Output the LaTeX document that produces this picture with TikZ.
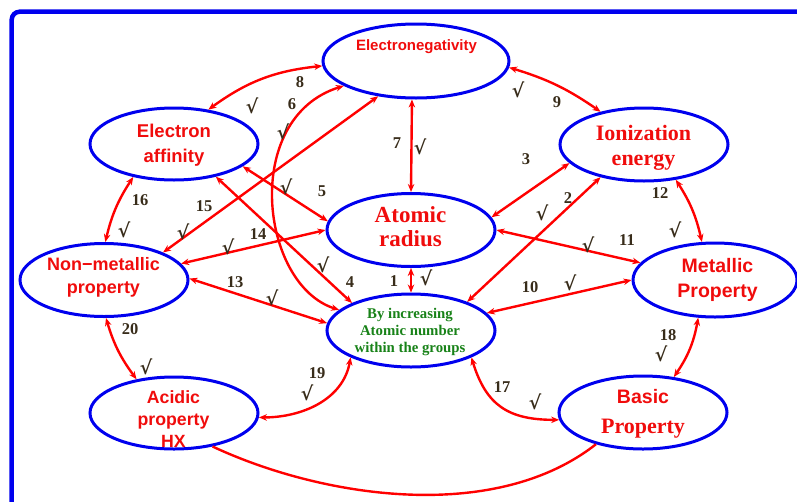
\documentclass[tikz,border=0pt]{standalone}
\usepackage{fontspec}
\setmainfont{Liberation Serif}
\setsansfont{Liberation Sans}
\newfontfamily\tickfont{DejaVu Serif}
\usetikzlibrary{arrows.meta,shapes.geometric}

\definecolor{frameblue}{RGB}{0,0,238}
\definecolor{linkred}{RGB}{255,0,0}
\definecolor{txtred}{RGB}{240,12,12}
\definecolor{numbrown}{RGB}{56,44,26}
\definecolor{grpgreen}{RGB}{24,130,24}

\begin{document}
\begin{tikzpicture}[x=1pt,y=-1pt,
  prop/.style={draw=frameblue, line width=3pt, ellipse, inner sep=0pt,
    minimum width=168pt, minimum height=73pt},
  link/.style={draw=linkred, line width=2.4pt,
    {Stealth[length=8pt,width=6.5pt]}-{Stealth[length=8pt,width=6.5pt]}},
  plain/.style={draw=linkred, line width=2.4pt},
  num/.style={text=numbrown, font=\fontsize{16.5}{16}\selectfont\bfseries, inner sep=0pt},
  tick/.style={text=numbrown, font=\fontsize{19}{19}\selectfont\tickfont\bfseries, inner sep=0pt},
  sanslbl/.style={text=txtred, align=center, inner sep=0pt, anchor=base},
]
\useasboundingbox (0,0) rectangle (797,501);
\clip (0,0) rectangle (797,501);

% outer frame, running off the right and bottom edges
\draw[frameblue, line width=4.5pt, rounded corners=8pt] (11.7,11.7) rectangle (840,560);

% property ellipses
\node[prop, minimum width=186pt, minimum height=74pt] (EN) at (416,61) {};
\node[prop, minimum height=72pt] (EA) at (174,144) {};
\node[prop] (IE) at (644,144.5) {};
\node[prop] (AR) at (411,230) {};
\node[prop] (BI) at (411,330.5) {};
\node[prop, minimum width=164pt, minimum height=74pt] (MP) at (715,280) {};
\node[prop] (NM) at (104,280) {};
\node[prop, minimum height=72pt] (AC) at (174,413) {};
\node[prop] (BP) at (643,412.5) {};

% texts (anchored at the baseline of their last line)
\node[sanslbl, font=\fontsize{15}{18}\selectfont\sffamily\bfseries] (ENt) at (416.5,50) {Electronegativity};
\node[sanslbl, font=\fontsize{18.5}{25}\selectfont\sffamily\bfseries] (EAt) at (174,162) {Electron\\affinity};
\node[sanslbl, font=\fontsize{22}{25}\selectfont\bfseries] (IEt) at (643.5,165) {Ionization\\energy};
\node[sanslbl, font=\fontsize{23}{24}\selectfont\bfseries] (ARt) at (410.5,246) {Atomic\\radius};
\node[sanslbl, font=\fontsize{19.5}{25}\selectfont\sffamily\bfseries] (MPt) at (717.5,297) {Metallic\\Property};
\node[sanslbl, font=\fontsize{18}{23}\selectfont\sffamily\bfseries] (NMt) at (103.5,293) {Non−metallic\\property};
\node[sanslbl, text=grpgreen, font=\fontsize{14.8}{17}\selectfont\bfseries] (BIt) at (410,352) {By increasing\\Atomic number\\within the groups};
\node[sanslbl, font=\fontsize{17.7}{22}\selectfont\sffamily\bfseries] (ACt) at (173.5,447) {Acidic\\property\\HX};
\node[sanslbl, font=\fontsize{19.5}{30}\selectfont\bfseries] (BPt) at (643,433) {{\sffamily Basic}\\{\fontsize{22}{30}\selectfont Property}};

% relations
\draw[link] (AR.south) -- (BI.north);
\draw[link] (BI.27.4) -- (IE.-143.9);
\draw[link] (AR.9) -- (IE.194.5);
\draw[link] (EA.-38.8) -- (BI.155.4);
\draw[link] (EA.-18) -- (AR.174.7);
\draw[link] (EN.199.4) .. controls +(-103,32) and +(-79,-25) .. (BI.164.9);
\draw[link] (EN.-96) -- (AR.north);
\draw[link] (EA.45) to[bend left=15] (EN.183.8);
\draw[link] (EN.-4.9) to[bend left=9] (IE.143.6);
\draw[link] (BI.13.5) -- (MP.180);
\draw[link] (AR.0) -- (MP.167);
\draw[link] (IE.-48.9) to[bend left=10] (MP.109.4);
\draw[link] (NM.1) -- (BI.175.8);
\draw[link] (NM.12.6) -- (AR.180);
\draw[link] (NM.25.4) -- (EN.223.4);
\draw[link] (EA.219.7) to[bend right=10] (NM.88);
\draw[link] (BI.-24.6) to[out=-73,in=180,looseness=1.2] (BP.185);
\draw[link] (MP.246.8) to[bend left=12] (BP.49);
\draw[link] (AC.-3) to[out=0,in=-100] (BI.204);
\draw[link] (NM.-87) to[bend right=10] (AC.138);
\draw[plain] (AC.-41) .. controls +(109,51) and +(-102,80) .. (BP.214);

% relation numbers
\node[num] (n1) at (394,281) {1};
\node[num] (n2) at (568,198) {2};
\node[num] (n3) at (526,159) {3};
\node[num] (n4) at (350,282) {4};
\node[num] (n5) at (322,191) {5};
\node[num] (n6) at (292,104) {6};
\node[num] (n7) at (397,143) {7};
\node[num] (n8) at (300,82) {8};
\node[num] (n9) at (557,102) {9};
\node[num] (n10) at (530,287) {10};
\node[num] (n11) at (627,240) {11};
\node[num] (n12) at (660,193) {12};
\node[num] (n13) at (235,282) {13};
\node[num] (n14) at (258,234) {14};
\node[num] (n15) at (204,206) {15};
\node[num] (n16) at (140,200) {16};
\node[num] (n17) at (502,387) {17};
\node[num] (n18) at (668,335) {18};
\node[num] (n19) at (317,373) {19};
\node[num] (n20) at (130,329) {20};

% check marks
\node[tick] (c1) at (426,278) {√};
\node[tick] (c2) at (542,213) {√};
\node[tick] (c4) at (323,265) {√};
\node[tick] (c5) at (286,187) {√};
\node[tick] (c6) at (283,132) {√};
\node[tick] (c7) at (420,147) {√};
\node[tick] (c8) at (252,106) {√};
\node[tick] (c9) at (518,90) {√};
\node[tick] (c10) at (570,283) {√};
\node[tick] (c11) at (588,245) {√};
\node[tick] (c12) at (675,230) {√};
\node[tick] (c13) at (272,298) {√};
\node[tick] (c14) at (228,247) {√};
\node[tick] (c15) at (183,232) {√};
\node[tick] (c16) at (124,230) {√};
\node[tick] (c17) at (535,402) {√};
\node[tick] (c18) at (661,354) {√};
\node[tick] (c19) at (307,393) {√};
\node[tick] (c20) at (146,367) {√};
\end{tikzpicture}
\end{document}
